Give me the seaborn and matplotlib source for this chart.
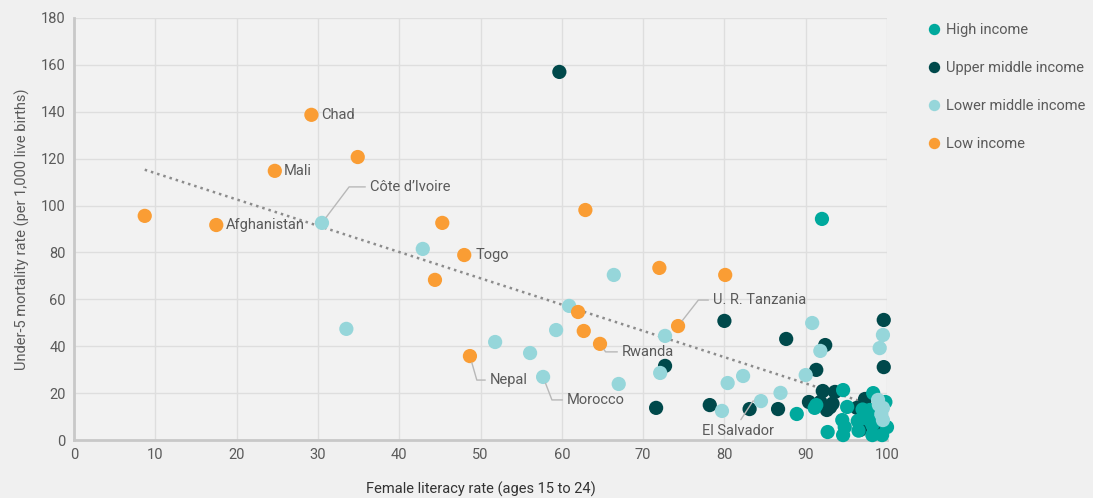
import pandas as pd
import matplotlib
matplotlib.use("Agg")
import matplotlib.pyplot as plt
import seaborn as sns

# DATA

high_x = [92.0, 88.9, 91.3, 91.1, 94.6, 95.1, 94.5, 94.8, 92.7, 94.6, 96.4, 98.3,
          97.9, 98.2, 98.2, 99.4, 99.8, 99.1, 97.6, 100.0, 96.5, 97.0]
high_y = [94.3, 11.1, 14.9, 13.7, 21.3, 14.1, 8.5, 5.5, 3.4, 2.1, 8.1, 20.0,
          12.8, 6.4, 2.1, 2.1, 16.2, 8.5, 9.0, 5.5, 4.0, 13.0]

upper_x = [59.7, 72.7, 71.6, 78.2, 80.0, 83.1, 86.6, 87.6, 91.3, 92.4, 99.6, 99.6,
           92.1, 93.6, 90.4, 91.8, 92.6, 93.3, 97.3, 96.3, 96.7, 99.5, 93.0]
upper_y = [157.0, 31.6, 13.7, 14.9, 50.8, 13.2, 13.2, 43.1, 29.9, 40.5, 51.2, 31.1,
           20.9, 20.5, 16.2, 16.2, 12.8, 15.5, 17.5, 13.7, 4.3, 5.1, 14.0]

lower_x = [30.5, 42.9, 33.5, 51.8, 56.1, 59.3, 60.9, 57.7, 66.4, 67.0, 72.7, 72.1,
           79.7, 80.4, 82.3, 84.5, 86.9, 90.0, 90.8, 91.8, 99.1, 99.5,
           98.9, 99.5, 99.5, 99.0, 99.3]
lower_y = [92.6, 81.5, 47.4, 41.8, 37.1, 46.9, 57.2, 26.9, 70.4, 23.9, 44.4, 28.6,
           12.4, 24.3, 27.3, 16.6, 20.1, 27.7, 49.9, 38.0, 39.2, 44.8,
           17.1, 13.7, 8.5, 15.0, 11.0]

low_x = [8.7, 17.5, 24.7, 29.2, 34.9, 45.3, 48.0, 44.4, 48.7, 62.9, 62.0, 62.7,
         64.7, 72.0, 74.3, 80.1]
low_y = [95.6, 91.7, 114.8, 138.7, 120.7, 92.6, 78.9, 68.3, 35.8, 98.1, 54.6, 46.5,
         41.0, 73.4, 48.6, 70.4]

groups = ["High income", "Upper middle income", "Lower middle income", "Low income"]
colors = ["#00a99d", "#00494b", "#96d6da", "#fa9d34"]

# labelled countries: name, x, y, offset in pixels, leader angle at point (None = no leader)
labels = [
    ("Chad", 29.2, 138.7, (10, 0), None),
    ("Mali", 24.7, 114.8, (9, 0), None),
    ("Afghanistan", 17.5, 91.7, (10, 0), None),
    ("Togo", 48.0, 78.9, (11, 0), None),
    ("Côte d\u2019Ivoire", 30.5, 92.6, (48, 36), 53),
    ("Nepal", 48.7, 35.8, (20, -24), -74),
    ("Morocco", 57.7, 26.9, (24, -23), -69),
    ("Rwanda", 64.7, 41.0, (22, -8), -55),
    ("U. R. Tanzania", 74.3, 48.6, (35, 26), 52),
]

df = pd.concat([
    pd.DataFrame({"x": upper_x, "y": upper_y, "group": groups[1]}),
    pd.DataFrame({"x": high_x, "y": high_y, "group": groups[0]}),
    pd.DataFrame({"x": lower_x, "y": lower_y, "group": groups[2]}),
    pd.DataFrame({"x": low_x, "y": low_y, "group": groups[3]}),
], ignore_index=True)

# STYLE

sns.set_style("whitegrid")
plt.rcParams["font.family"] = ["Roboto", "DejaVu Sans"]
text_color = "#5a5a5a"

fig = plt.figure(figsize=(10.93, 4.98), dpi=100, facecolor="#f0f0f0")
ax = fig.add_axes([74 / 1093, 58 / 498, 813 / 1093, 422 / 498])
ax.set_facecolor("#f2f2f2")

# PLOT

sns.regplot(data=df, x="x", y="y", scatter=False, ci=None, ax=ax,
            line_kws=dict(color="#8c8c8c", lw=1.8, ls=(0, (1, 1.6))))

sns.scatterplot(data=df, x="x", y="y", hue="group", hue_order=groups,
                palette=colors, s=105, linewidth=0, alpha=1, ax=ax,
                legend=True, zorder=3, clip_on=False)

for name, x, y, off, ang in labels:
    if ang is None:
        ax.annotate(name, (x, y), xytext=off, textcoords="offset pixels",
                    ha="left", va="center", fontsize=10.5, color=text_color, zorder=4)
    else:
        ax.annotate(name, (x, y), xytext=off, textcoords="offset pixels",
                    ha="left", va="center", fontsize=10.5, color=text_color, zorder=4,
                    arrowprops=dict(arrowstyle="-", color="#b8b8b8", lw=1,
                                    shrinkA=1, shrinkB=5, relpos=(0, 0.5),
                                    connectionstyle=f"angle,angleA=0,angleB={ang},rad=0"))

# El Salvador: label below, leader goes up then across to the point
ax.annotate("El Salvador", (84.5, 16.6), xytext=(-23, -30), textcoords="offset pixels",
            ha="center", va="center", fontsize=10.5, color=text_color, zorder=4,
            arrowprops=dict(arrowstyle="-", color="#b8b8b8", lw=1,
                            shrinkA=1, shrinkB=5, relpos=(0.5, 1),
                            connectionstyle="angle,angleA=57,angleB=0,rad=0"))

ax.set_xlim(0, 100)
ax.set_ylim(0, 180)
ax.set_xticks(range(0, 101, 10))
ax.set_yticks(range(0, 181, 20))
ax.grid(True, color="#dedede", lw=1)
ax.set_axisbelow(True)
for side in ["top", "right"]:
    ax.spines[side].set_visible(False)
for side in ["left", "bottom"]:
    ax.spines[side].set_color("#c8c8c8")
    ax.spines[side].set_linewidth(2)
ax.tick_params(length=0, labelsize=10.5, colors=text_color, pad=6)
ax.set_xlabel("Female literacy rate (ages 15 to 24)", fontsize=10.5,
              color="#333333", labelpad=14)
ax.set_ylabel("Under-5 mortality rate (per 1,000 live births)", fontsize=10.5,
              color=text_color, labelpad=8)

handles, texts = ax.get_legend_handles_labels()
ax.get_legend().remove()
fig.legend(handles, texts, loc="upper left", bbox_to_anchor=(912 / 1093, 488 / 498),
           frameon=False, fontsize=10.5, labelcolor=text_color, labelspacing=1.65,
           handletextpad=0.2, markerscale=0.8, handlelength=1.2)

fig.savefig("out.png", dpi=100, facecolor=fig.get_facecolor())
